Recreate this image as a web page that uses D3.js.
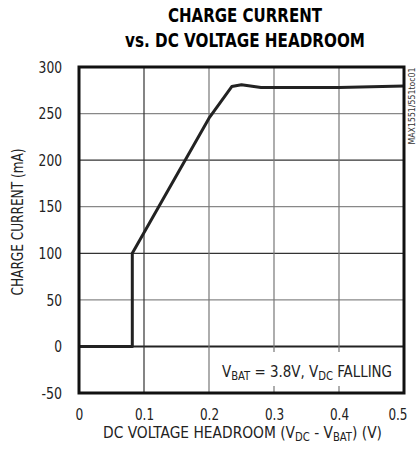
<!DOCTYPE html>
<html><head><meta charset="utf-8">
<script src="https://cdn.jsdelivr.net/npm/d3@7"></script>
<style>body{margin:0;background:#fff}</style>
</head><body>
<script>
const xTicks = [0, 0.1, 0.2, 0.3, 0.4, 0.5];
const yTicks = [-50, 0, 50, 100, 150, 200, 250, 300];
const headroom = [0, 0.082, 0.082, 0.2, 0.235, 0.25, 0.28, 0.3, 0.4, 0.5];
const current  = [0, 0, 100, 245, 279, 281, 278, 278, 278, 279.5];
const titleLines = ["CHARGE CURRENT", "vs. DC VOLTAGE HEADROOM"];

const W = 417, H = 456;
const m = {left: 79, right: 13, top: 67, bottom: 63};
const svg = d3.select("body").append("svg").attr("width", W).attr("height", H);
const x = d3.scaleLinear().domain([0, 0.5]).range([m.left, W - m.right]);
const y = d3.scaleLinear().domain([-50, 300]).range([H - m.bottom, m.top]);
const cond = "'Liberation Sans Narrow','DejaVu Sans Condensed','Roboto Condensed',sans-serif";
const lbl = s => { let w = 0; for (const c of s) w += c === "." ? 3.5 : (c === "-" ? 5 : 7.8); return w; };

// title
svg.append("text").attr("x", 245).attr("y", 22).attr("text-anchor", "middle")
  .attr("font-family", "'DejaVu Sans'").attr("font-weight", "bold").attr("font-size", 20)
  .attr("textLength", 154).attr("lengthAdjust", "spacingAndGlyphs").text(titleLines[0]);
svg.append("text").attr("x", 245).attr("y", 47).attr("text-anchor", "middle")
  .attr("font-family", "'DejaVu Sans'").attr("font-weight", "bold").attr("font-size", 20)
  .attr("textLength", 240).attr("lengthAdjust", "spacingAndGlyphs").text(titleLines[1]);

// grid
const g = svg.append("g");
g.selectAll(".hg").data(yTicks.filter(d => d > -50 && d < 300)).join("line")
  .attr("x1", x(0)).attr("x2", x(0.5)).attr("y1", d => y(d)).attr("y2", d => y(d))
  .attr("stroke", d => d === 0 ? "#222" : (d % 100 === 0 ? "#333" : "#888"))
  .attr("stroke-width", d => d === 0 ? 2 : 1.2);
g.selectAll(".vg").data(xTicks.filter(d => d > 0 && d < 0.5)).join("line")
  .attr("y1", y(-50)).attr("y2", y(300)).attr("x1", d => x(d)).attr("x2", d => x(d))
  .attr("stroke", d => d === 0.1 ? "#333" : "#777").attr("stroke-width", 1.2);

// annotation box
svg.append("rect").attr("x", 218).attr("y", 352).attr("width", 180).attr("height", 34).attr("fill", "#fff");
const ann = svg.append("text").attr("x", 222).attr("y", 377)
  .attr("font-family", cond).attr("font-size", 16).attr("fill", "#222")
  .attr("textLength", 170).attr("lengthAdjust", "spacingAndGlyphs");
ann.append("tspan").text("V");
ann.append("tspan").attr("font-size", 12).attr("dy", 3).text("BAT");
ann.append("tspan").attr("dy", -3).text(" = 3.8V, V");
ann.append("tspan").attr("font-size", 12).attr("dy", 3).text("DC");
ann.append("tspan").attr("dy", -3).text(" FALLING");

// curve
const pts = headroom.map((h, i) => [h, current[i]]);
svg.append("path").datum(pts)
  .attr("d", d3.line().x(d => x(d[0])).y(d => y(d[1])))
  .attr("fill", "none").attr("stroke", "#222").attr("stroke-width", 3).attr("stroke-linejoin", "round");

// frame
svg.append("rect").attr("x", x(0)).attr("y", y(300)).attr("width", x(0.5) - x(0)).attr("height", y(-50) - y(300))
  .attr("fill", "none").attr("stroke", "#111").attr("stroke-width", 3);

// axes labels
const yAxis = d3.axisLeft(y).tickValues(yTicks).tickSize(0).tickPadding(17).tickFormat(d => String(d));
const ya = svg.append("g").attr("transform", `translate(${x(0)},0)`).call(yAxis);
ya.select(".domain").remove();
ya.selectAll("text").attr("font-family", cond).attr("font-size", 16.5).attr("fill", "#222")
  .attr("textLength", d => lbl(String(d))).attr("lengthAdjust", "spacingAndGlyphs");

const xAxis = d3.axisBottom(x).tickValues(xTicks).tickSize(0).tickPadding(15).tickFormat(d => String(d));
const xa = svg.append("g").attr("transform", `translate(0,${y(-50)})`).call(xAxis);
xa.select(".domain").remove();
xa.selectAll("text").attr("font-family", cond).attr("font-size", 16.5).attr("fill", "#222")
  .attr("textLength", d => lbl(String(d))).attr("lengthAdjust", "spacingAndGlyphs")
  .filter(d => d === 0.5).attr("text-anchor", "end").attr("x", 3);

// axis titles
svg.append("text").attr("transform", "translate(23,222) rotate(-90)").attr("text-anchor", "middle")
  .attr("font-family", cond).attr("font-size", 16.5).attr("fill", "#222")
  .attr("textLength", 147).attr("lengthAdjust", "spacingAndGlyphs").text("CHARGE CURRENT (mA)");
const xt = svg.append("text").attr("x", 103).attr("y", 438)
  .attr("font-family", cond).attr("font-size", 16.5).attr("fill", "#222")
  .attr("textLength", 279).attr("lengthAdjust", "spacingAndGlyphs");
xt.append("tspan").text("DC VOLTAGE HEADROOM (V");
xt.append("tspan").attr("font-size", 12).attr("dy", 3).text("DC");
xt.append("tspan").attr("dy", -3).text(" - V");
xt.append("tspan").attr("font-size", 12).attr("dy", 3).text("BAT");
xt.append("tspan").attr("dy", -3).text(") (V)");

// side code
svg.append("text").attr("transform", "translate(415,106) rotate(-90)").attr("text-anchor", "middle")
  .attr("font-family", cond).attr("font-size", 9).attr("fill", "#333")
  .attr("textLength", 77).attr("lengthAdjust", "spacingAndGlyphs").text("MAX1551/551toc01");
</script>
</body></html>
